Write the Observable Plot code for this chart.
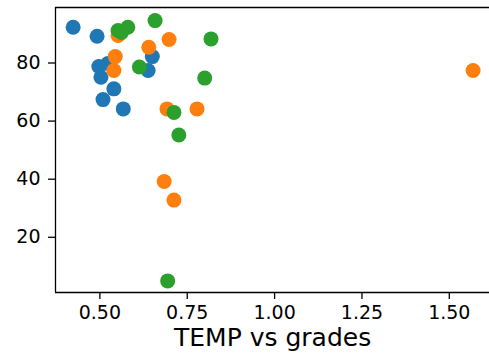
<!DOCTYPE html>
<html>
<head>
<meta charset="utf-8">
<script src="https://cdn.jsdelivr.net/npm/d3@7"></script>
<script src="https://cdn.jsdelivr.net/npm/@observablehq/plot@0.6"></script>
<style>
  html, body { margin: 0; padding: 0; background: #fff; overflow: hidden; }
  #chart { width: 489px; height: 353px; overflow: hidden; }
  #chart svg { max-width: none !important; }
</style>
</head>
<body>
<div id="chart"></div>
<script>
// Series: TEMP (x) vs grades (y)
const blueTemp   = [0.4235, 0.492, 0.497, 0.503, 0.523, 0.540, 0.509, 0.567, 0.650, 0.638];
const blueGrades = [92.3, 89.2, 78.8, 75.1, 79.8, 71.1, 67.4, 64.2, 82.2, 77.4];

const orangeTemp   = [0.552, 0.544, 0.540, 0.640, 0.698, 0.692, 0.778, 0.684, 0.712, 1.568];
const orangeGrades = [89.5, 82.2, 77.4, 85.4, 88.1, 64.2, 64.2, 39.2, 32.8, 77.4];

const greenTemp   = [0.552, 0.562, 0.580, 0.658, 0.818, 0.800, 0.613, 0.712, 0.726, 0.694];
const greenGrades = [91.2, 90.5, 92.3, 94.6, 88.3, 74.8, 78.6, 63.0, 55.2, 5.0];

const xTicks = [0.5, 0.75, 1.0, 1.25, 1.5];
const yTicks = [20, 40, 60, 80];
const xLabel = "TEMP vs grades";

const xDomain = [0.373, 1.698];
const yDomain = [1.0, 99.1];

const toRows = (xs, ys) => xs.map((x, i) => ({x, y: ys[i]}));
const blue = toRows(blueTemp, blueGrades);
const orange = toRows(orangeTemp, orangeGrades);
const green = toRows(greenTemp, greenGrades);

const chart = Plot.plot({
  width: 520,
  height: 353,
  marginLeft: 55,
  marginRight: 2,
  marginTop: 7,
  marginBottom: 61,
  style: {fontFamily: "DejaVu Sans", color: "#000", background: "#fff", maxWidth: "none"},
  x: {domain: xDomain},
  y: {domain: yDomain},
  marks: [
    Plot.dot(blue, {x: "x", y: "y", r: 7.5, fill: "#1f77b4", stroke: "none"}),
    Plot.dot(orange, {x: "x", y: "y", r: 7.5, fill: "#ff7f0e", stroke: "none"}),
    Plot.dot(green, {x: "x", y: "y", r: 7.5, fill: "#2ca02c", stroke: "none"}),
    Plot.ruleY(yDomain, {stroke: "#000", strokeWidth: 1.3}),
    Plot.ruleX([xDomain[0]], {stroke: "#000", strokeWidth: 1.3}),
    Plot.axisX({ticks: xTicks, tickFormat: d3.format(".2f"), tickSize: 7, tickPadding: 6, fontSize: 19, label: null, strokeWidth: 1.3}),
    Plot.axisY({ticks: yTicks, tickSize: 7, tickPadding: 8, fontSize: 19, label: null, strokeWidth: 1.3}),
    Plot.text([xLabel], {text: d => d, x: 1.0, frameAnchor: "bottom", lineAnchor: "top", dy: 36, dx: -2, fontSize: 25, fill: "#000"})
  ]
});
chart.style.maxWidth = "none";
document.getElementById("chart").appendChild(chart);
</script>
</body>
</html>
